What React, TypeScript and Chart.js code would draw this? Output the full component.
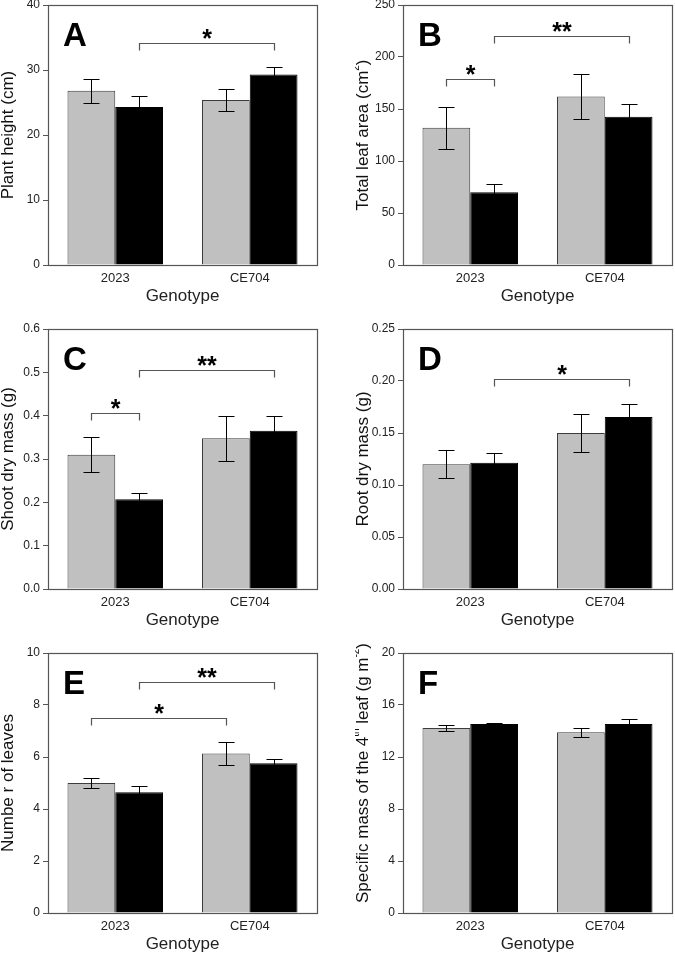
import React, { useEffect, useRef } from 'react';
import { Chart, registerables } from 'chart.js';

Chart.register(...registerables);

const FONT = '"Liberation Sans", Arial, Helvetica, sans-serif';
Chart.defaults.font.family = FONT;

const categories = ['2023', 'CE704'];
const seriesNames = ['Grey', 'Black'];

// Panel A – plant height (cm)
const heightGray = [26.8, 25.4];
const heightGrayErr = [1.8, 1.7];
const heightBlack = [24.3, 29.3];
const heightBlackErr = [1.7, 1.1];
const heightTicks = ['0', '10', '20', '30', '40'];
const heightBrackets = [{ from: [1, 0], to: [1, 1], y: 34.2, mark: '*' }];

// Panel B – total leaf area (cm2)
const areaGray = [132, 162];
const areaGrayErr = [20, 22];
const areaBlack = [70, 142.5];
const areaBlackErr = [7.7, 12];
const areaTicks = ['0', '50', '100', '150', '200', '250'];
const areaBrackets = [
  { from: [0, 0], to: [1, 0], y: 179, mark: '*' },
  { from: [1, 0], to: [1, 1], y: 220, mark: '**' },
];

// Panel C – shoot dry mass (g)
const shootGray = [0.31, 0.348];
const shootGrayErr = [0.041, 0.052];
const shootBlack = [0.207, 0.365];
const shootBlackErr = [0.015, 0.035];
const shootTicks = ['0.0', '0.1', '0.2', '0.3', '0.4', '0.5', '0.6'];
const shootBrackets = [
  { from: [0, 0], to: [1, 0], y: 0.406, mark: '*' },
  { from: [1, 0], to: [1, 1], y: 0.505, mark: '**' },
];

// Panel D – root dry mass (g)
const rootGray = [0.12, 0.15];
const rootGrayErr = [0.0135, 0.018];
const rootBlack = [0.1215, 0.1655];
const rootBlackErr = [0.0095, 0.0125];
const rootTicks = ['0.00', '0.05', '0.10', '0.15', '0.20', '0.25'];
const rootBrackets = [{ from: [1, 0], to: [1, 1], y: 0.202, mark: '*' }];

// Panel E – number of leaves
const leavesGray = [5.0, 6.13];
const leavesGrayErr = [0.19, 0.44];
const leavesBlack = [4.64, 5.76];
const leavesBlackErr = [0.26, 0.15];
const leavesTicks = ['0', '2', '4', '6', '8', '10'];
const leavesBrackets = [
  { from: [0, 0], to: [0, 1], y: 7.5, mark: '*' },
  { from: [1, 0], to: [1, 1], y: 8.88, mark: '**' },
];

// Panel F – specific mass of the 4th leaf (g m-2)
const smGray = [14.23, 13.9];
const smGrayErr = [0.2, 0.33];
const smBlack = [14.54, 14.54];
const smBlackErr = [0.08, 0.4];
const smTicks = ['0', '4', '8', '12', '16', '20'];
const smBrackets: any[] = [];

const PLOT_W = 269;
const PLOT_H = 260;
const Y_AXIS_W = 48;
const X_AXIS_H = 42;
const PAD_TOP = 12;
const PAD_RIGHT = 2;

const panels = [
  { letter: 'A', title: [['Plant height (cm)', 0]], titleShift: 0, gray: heightGray, grayErr: heightGrayErr, black: heightBlack, blackErr: heightBlackErr, ticks: heightTicks, brackets: heightBrackets, left: 48, top: 5 },
  { letter: 'B', title: [['Total leaf area (cm', 0], ['2', 1], [')', 0]], titleShift: 0, gray: areaGray, grayErr: areaGrayErr, black: areaBlack, blackErr: areaBlackErr, ticks: areaTicks, brackets: areaBrackets, left: 403, top: 5 },
  { letter: 'C', title: [['Shoot dry mass (g)', 0]], titleShift: 0, gray: shootGray, grayErr: shootGrayErr, black: shootBlack, blackErr: shootBlackErr, ticks: shootTicks, brackets: shootBrackets, left: 48, top: 329 },
  { letter: 'D', title: [['Root dry mass (g)', 0]], titleShift: 0, gray: rootGray, grayErr: rootGrayErr, black: rootBlack, blackErr: rootBlackErr, ticks: rootTicks, brackets: rootBrackets, left: 403, top: 329 },
  { letter: 'E', title: [['Numbe r of leaves', 0]], titleShift: 0, gray: leavesGray, grayErr: leavesGrayErr, black: leavesBlack, blackErr: leavesBlackErr, ticks: leavesTicks, brackets: leavesBrackets, left: 48, top: 653 },
  { letter: 'F', title: [['Specific mass of the 4', 0], ['th', 1], [' leaf (g m', 0], ['-2', 1], [')', 0]], titleShift: -10, gray: smGray, grayErr: smGrayErr, black: smBlack, blackErr: smBlackErr, ticks: smTicks, brackets: smBrackets, left: 403, top: 653 },
];

function Panel({ cfg }: { cfg: any }) {
  const ref = useRef<HTMLCanvasElement>(null);
  const w = Y_AXIS_W + PLOT_W + PAD_RIGHT;
  const h = PAD_TOP + PLOT_H + X_AXIS_H;

  useEffect(() => {
    const tickVals = cfg.ticks.map((t: string) => parseFloat(t));
    const decor = {
      id: 'decor',
      afterDatasetsDraw(chart: any) {
        const ctx = chart.ctx;
        const ca = chart.chartArea;
        const ys = chart.scales.y;
        const errs = [cfg.grayErr, cfg.blackErr];
        const vals = [cfg.gray, cfg.black];
        ctx.save();
        // error bars
        ctx.strokeStyle = '#000';
        ctx.lineWidth = 1;
        for (let d = 0; d < 2; d++) {
          const meta = chart.getDatasetMeta(d);
          meta.data.forEach((bar: any, j: number) => {
            const x = Math.round(bar.x) + 0.5;
            const yHi = Math.round(ys.getPixelForValue(vals[d][j] + errs[d][j])) + 0.5;
            const yLo = Math.round(ys.getPixelForValue(vals[d][j] - errs[d][j])) + 0.5;
            ctx.beginPath();
            ctx.moveTo(x, yHi);
            ctx.lineTo(x, yLo);
            ctx.moveTo(x - 8, yHi);
            ctx.lineTo(x + 8, yHi);
            ctx.moveTo(x - 8, yLo);
            ctx.lineTo(x + 8, yLo);
            ctx.stroke();
          });
        }
        // frame
        ctx.strokeStyle = '#555';
        ctx.lineWidth = 1.2;
        ctx.strokeRect(Math.round(ca.left) + 0.5, Math.round(ca.top) + 0.5, Math.round(ca.right - ca.left), Math.round(ca.bottom - ca.top));
        // significance brackets
        ctx.font = 'bold 100px ' + FONT;
        const m = ctx.measureText('*');
        const gh = m.actualBoundingBoxAscent + m.actualBoundingBoxDescent;
        const starSize = (100 * 9.5) / gh;
        cfg.brackets.forEach((b: any) => {
          const x1 = Math.round(chart.getDatasetMeta(b.from[0]).data[b.from[1]].x) + 0.5;
          const x2 = Math.round(chart.getDatasetMeta(b.to[0]).data[b.to[1]].x) + 0.5;
          const y = Math.round(ys.getPixelForValue(b.y)) + 0.5;
          ctx.strokeStyle = '#555';
          ctx.lineWidth = 1.2;
          ctx.beginPath();
          ctx.moveTo(x1, y + 7);
          ctx.lineTo(x1, y);
          ctx.lineTo(x2, y);
          ctx.lineTo(x2, y + 7);
          ctx.stroke();
          ctx.font = 'bold ' + starSize.toFixed(1) + 'px ' + FONT;
          ctx.fillStyle = '#000';
          ctx.textAlign = 'center';
          ctx.textBaseline = 'alphabetic';
          const mm = ctx.measureText(b.mark);
          const centerY = y - 9.5;
          const base = centerY + (mm.actualBoundingBoxAscent - mm.actualBoundingBoxDescent) / 2;
          ctx.fillText(b.mark, (x1 + x2) / 2, base);
        });
        // panel letter
        ctx.font = 'bold 33px ' + FONT;
        ctx.fillStyle = '#000';
        ctx.textAlign = 'left';
        ctx.textBaseline = 'alphabetic';
        ctx.fillText(cfg.letter, ca.left + 15, ca.top + 41);
        // y title with superscripts
        const mainFont = '17px ' + FONT;
        const supFont = '10px ' + FONT;
        let total = 0;
        cfg.title.forEach((s: any) => {
          ctx.font = s[1] ? supFont : mainFont;
          total += ctx.measureText(s[0]).width;
        });
        ctx.translate(ca.left - 40, (ca.top + ca.bottom) / 2 + cfg.titleShift);
        ctx.rotate(-Math.PI / 2);
        ctx.fillStyle = '#111';
        ctx.textBaseline = 'middle';
        let xx = -total / 2;
        cfg.title.forEach((s: any) => {
          ctx.font = s[1] ? supFont : mainFont;
          ctx.fillText(s[0], xx, s[1] ? -7 : 0);
          xx += ctx.measureText(s[0]).width;
        });
        ctx.restore();
      },
    };

    const chart = new Chart(ref.current as HTMLCanvasElement, {
      type: 'bar',
      data: {
        labels: categories,
        datasets: [
          { label: seriesNames[0], data: cfg.gray, backgroundColor: '#C0C0C0', borderColor: '#3c3c3c', borderWidth: 1, barPercentage: 1, categoryPercentage: 0.71 },
          { label: seriesNames[1], data: cfg.black, backgroundColor: '#000000', borderColor: '#000000', borderWidth: 1, barPercentage: 1, categoryPercentage: 0.71 },
        ],
      },
      options: {
        animation: false,
        responsive: false,
        devicePixelRatio: 1,
        layout: { padding: { top: PAD_TOP, right: PAD_RIGHT, left: 0, bottom: 0 } },
        plugins: { legend: { display: false }, tooltip: { enabled: false } },
        scales: {
          x: {
            grid: { display: false, drawTicks: false },
            border: { display: false },
            ticks: { padding: 6, color: '#222', font: { size: 13 } },
            title: { display: true, text: 'Genotype', color: '#222', font: { size: 17 }, padding: 0 },
            afterFit: (s: any) => { s.height = X_AXIS_H; },
          },
          y: {
            min: tickVals[0],
            max: tickVals[tickVals.length - 1],
            grid: { drawOnChartArea: false, drawTicks: true, tickLength: 5, color: '#555' },
            border: { display: false },
            ticks: {
              padding: 3,
              color: '#222',
              font: { size: 12 },
              autoSkip: false,
              callback: (_v: any, i: number) => cfg.ticks[i],
            },
            afterBuildTicks: (s: any) => { s.ticks = tickVals.map((v: number) => ({ value: v })); },
            afterFit: (s: any) => { s.width = Y_AXIS_W; },
          },
        },
      },
      plugins: [decor],
    } as any);
    return () => chart.destroy();
  }, [cfg]);

  return (
    <canvas
      ref={ref}
      width={w}
      height={h}
      style={{ position: 'absolute', left: cfg.left - Y_AXIS_W, top: cfg.top - PAD_TOP, width: w, height: h }}
    />
  );
}

export default function App() {
  return (
    <div style={{ position: 'absolute', left: 0, top: 0, width: 675, height: 954, overflow: 'hidden', background: '#fff' }}>
      {panels.map((p) => (
        <Panel key={p.letter} cfg={p} />
      ))}
    </div>
  );
}
